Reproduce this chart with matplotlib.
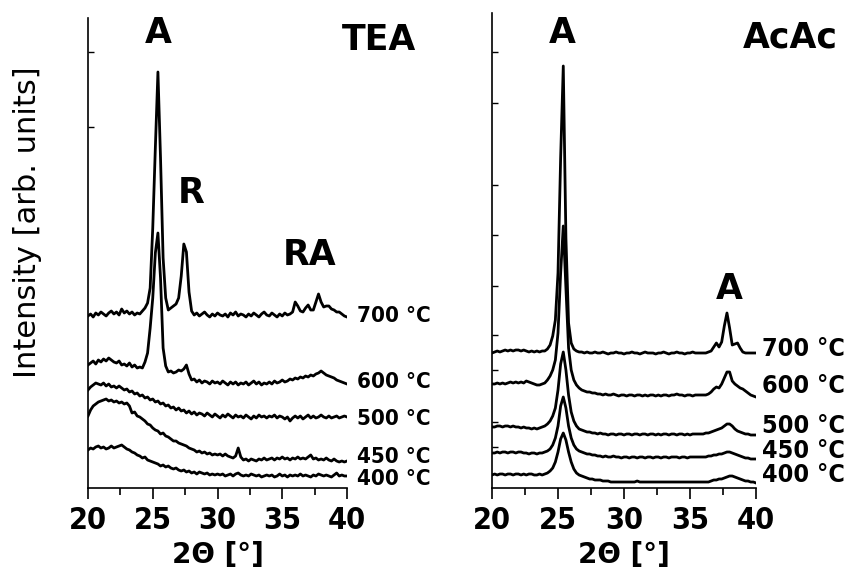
import numpy as np
import matplotlib
matplotlib.use("Agg")
import matplotlib.pyplot as plt
from matplotlib.ticker import MultipleLocator, FixedLocator

# 2-theta sampling grid (degrees)
theta = np.round(np.arange(20.0, 40.0001, 0.2), 1)

temps = ["700 °C", "600 °C", "500 °C", "450 °C", "400 °C"]

# TEA series (stacked intensity, arb. units)
tea_700 = [
    172, 174, 171, 175, 173, 176, 174, 172, 175, 177,
    174, 176, 173, 179, 175, 177, 174, 176, 173, 175,
    174, 177, 180, 185, 200, 260, 340, 416, 330, 230,
    190, 178, 180, 182, 184, 190, 212, 244, 236, 196,
    177, 173, 175, 172, 174, 176, 173, 171, 174, 172,
    175, 173, 172, 174, 171, 175, 173, 176, 172, 174,
    173, 171, 174, 172, 175, 173, 171, 174, 176, 173,
    172, 175, 173, 171, 174, 172, 175, 173, 174, 176,
    186, 182, 177, 176, 180, 183, 178, 178, 186, 194,
    186, 181, 182, 182, 179, 178, 176, 176, 174, 172,
    171]
tea_600 = [
    123, 125, 127, 124, 128, 126, 129, 127, 130, 128,
    126, 125, 127, 123, 124, 122, 125, 121, 123, 120,
    121, 120, 126, 135, 160, 190, 235, 255, 210, 140,
    122, 116, 117, 115, 116, 118, 117, 119, 123, 114,
    108, 109, 106, 108, 105, 107, 106, 104, 107, 105,
    106, 104, 107, 105, 103, 106, 104, 106, 103, 105,
    104, 106, 103, 105, 107, 104, 106, 103, 105, 104,
    106, 104, 107, 105, 106, 108, 106, 107, 109, 108,
    110, 109, 111, 110, 112, 111, 113, 112, 114, 115,
    117, 115, 113, 112, 111, 110, 108, 107, 106, 105,
    104]
tea_500 = [
    98, 101, 103, 105, 104, 103, 105, 102, 104, 101,
    102, 100, 102, 100, 98, 99, 96, 97, 94, 95,
    92, 93, 90, 91, 88, 89, 86, 87, 84, 85,
    82, 83, 80, 81, 78, 80, 77, 78, 75, 77,
    74, 76, 73, 75, 74, 72, 75, 73, 71, 74,
    72, 70, 73, 71, 74, 72, 70, 73, 71, 72,
    70, 73, 71, 69, 72, 70, 73, 71, 72, 70,
    72, 71, 73, 70, 72, 71, 69, 71, 67, 70,
    72, 70, 72, 69, 71, 73, 70, 72, 70, 71,
    73, 71, 70, 72, 70, 71, 72, 70, 71, 72,
    71]
tea_450 = [
    72, 78, 82, 84, 86, 87, 88, 89, 87, 88,
    86, 87, 85, 86, 84, 85, 82, 75, 76, 72,
    71, 69, 67, 64, 63, 60, 58, 57, 54, 55,
    52, 51, 49, 47, 47, 45, 44, 43, 42, 40,
    39, 38, 36, 37, 35, 36, 34, 35, 33, 34,
    33, 34, 32, 34, 32, 31, 30, 32, 40, 31,
    28, 29, 27, 29, 28, 27, 29, 28, 30, 28,
    29, 30, 28, 30, 29, 31, 29, 30, 28, 30,
    29, 31, 29, 30, 29, 31, 33, 29, 30, 28,
    29, 28, 30, 28, 27, 29, 27, 26, 27, 26,
    27]
tea_400 = [
    38, 40, 39, 41, 42, 40, 41, 39, 40, 42,
    40, 41, 42, 43, 41, 39, 38, 36, 35, 33,
    32, 30, 31, 28, 27, 26, 25, 24, 22, 23,
    21, 22, 20, 19, 20, 18, 17, 18, 16, 17,
    15, 16, 14, 16, 15, 14, 15, 13, 14, 13,
    14, 13, 14, 12, 13, 14, 12, 14, 15, 13,
    12, 13, 12, 14, 13, 12, 13, 11, 12, 13,
    12, 13, 11, 12, 14, 12, 13, 11, 13, 12,
    13, 12, 14, 12, 13, 12, 11, 13, 12, 14,
    13, 12, 13, 12, 11, 13, 15, 12, 13, 12,
    12]

# AcAc series (stacked intensity, arb. units)
acac_700 = [
    135, 136, 137, 136, 137, 138, 137, 138, 137, 138,
    138, 137, 138, 137, 136, 137, 136, 137, 136, 137,
    137, 139, 143, 152, 168, 215, 330, 422, 250, 165,
    145, 139, 137, 136, 136, 135, 136, 135, 135, 136,
    135, 135, 136, 135, 134, 135, 135, 136, 135, 135,
    134, 135, 135, 136, 135, 135, 134, 135, 136, 135,
    135, 135, 134, 135, 135, 136, 135, 134, 135, 135,
    136, 135, 135, 134, 135, 135, 136, 135, 135, 135,
    135, 135, 136, 137, 141, 145, 141, 146, 162, 175,
    160, 143, 144, 145, 140, 136, 135, 135, 135, 135,
    135]
acac_600 = [
    104, 104, 105, 104, 105, 104, 105, 106, 105, 106,
    105, 106, 105, 107, 106, 105, 104, 103, 103, 104,
    105, 108, 112, 118, 128, 155, 215, 262, 200, 140,
    118, 108, 103, 100, 98, 97, 96, 96, 95, 95,
    94, 94, 93, 94, 93, 93, 94, 93, 92, 93,
    93, 92, 93, 93, 92, 93, 93, 92, 93, 92,
    93, 93, 92, 93, 92, 93, 93, 92, 93, 93,
    94, 93, 93, 92, 93, 93, 92, 93, 93, 93,
    93, 93, 94, 96, 99, 101, 100, 104, 110, 116,
    116, 107, 104, 102, 100, 99, 97, 95, 93, 92,
    91]
acac_500 = [
    61, 61, 62, 62, 61, 62, 62, 61, 62, 61,
    61, 60, 61, 60, 60, 59, 60, 59, 60, 61,
    62, 64, 67, 72, 80, 98, 124, 136, 118, 93,
    76, 67, 62, 59, 58, 57, 56, 56, 55, 55,
    54, 55, 54, 54, 53, 54, 54, 53, 54, 54,
    53, 54, 54, 53, 54, 54, 53, 54, 54, 53,
    54, 54, 53, 54, 53, 54, 54, 53, 54, 54,
    53, 54, 54, 53, 54, 53, 54, 54, 54, 54,
    54, 55, 55, 56, 57, 58, 59, 60, 62, 64,
    64, 62, 59, 57, 56, 55, 54, 54, 53, 53,
    53]
acac_450 = [
    35, 35, 36, 35, 36, 36, 35, 36, 36, 35,
    36, 36, 35, 35, 34, 35, 35, 34, 35, 35,
    36, 37, 39, 43, 50, 62, 82, 91, 80, 62,
    50, 43, 39, 37, 36, 35, 34, 34, 33, 33,
    32, 32, 31, 32, 31, 31, 32, 31, 31, 30,
    31, 31, 30, 31, 31, 30, 31, 31, 30, 31,
    31, 30, 31, 31, 30, 31, 31, 30, 31, 31,
    31, 30, 31, 31, 30, 31, 31, 31, 31, 31,
    31, 31, 32, 32, 33, 33, 34, 34, 35, 36,
    36, 35, 34, 33, 32, 31, 30, 30, 29, 29,
    29]
acac_400 = [
    13, 14, 13, 14, 14, 13, 14, 14, 13, 14,
    14, 13, 14, 13, 14, 14, 13, 13, 14, 13,
    14, 15, 17, 20, 26, 36, 49, 55, 48, 36,
    26, 19, 15, 13, 12, 11, 10, 9, 9, 8,
    8, 8, 7, 7, 7, 6, 6, 6, 6, 6,
    6, 6, 6, 6, 6, 7, 6, 6, 6, 6,
    6, 6, 6, 6, 6, 6, 6, 6, 6, 6,
    6, 6, 6, 6, 6, 6, 6, 6, 6, 6,
    6, 6, 6, 7, 8, 8, 9, 9, 10, 11,
    12, 12, 11, 10, 9, 8, 7, 7, 6, 6,
    5]

x_ticks = [20, 25, 30, 35, 40]

plt.rcParams["font.family"] = ["DejaVu Sans"]

fig = plt.figure(figsize=(8.48, 5.79), dpi=100)
ax_l = fig.add_axes([88 / 848, 91 / 579, 259 / 848, 470 / 579])
ax_r = fig.add_axes([492 / 848, 91 / 579, 264 / 848, 475 / 579])

# (axes, curves, y-limit, label heights, label x, label size)
panels = [
    (ax_l, [tea_700, tea_600, tea_500, tea_450, tea_400], 470,
     [172, 106, 69, 31, 9], 40.75, 16),
    (ax_r, [acac_700, acac_600, acac_500, acac_450, acac_400], 475,
     [139, 102, 62, 37, 13], 40.45, 18),
]

for ax, series, top, lab_y, lab_x, lab_fs in panels:
    for vals, name, ly in zip(series, temps, lab_y):
        ax.plot(theta, vals, color="black", lw=2.0, solid_joinstyle="round")
        ax.text(lab_x, ly, name, fontsize=lab_fs, fontweight="bold",
                stretch="condensed", va="center", ha="left", clip_on=False)
    ax.set_xlim(20, 40)
    ax.set_ylim(0, top)
    for s in ("top", "right"):
        ax.spines[s].set_visible(False)
    for s in ("left", "bottom"):
        ax.spines[s].set_linewidth(1.2)
    ax.xaxis.set_major_locator(FixedLocator(x_ticks))
    ax.xaxis.set_minor_locator(MultipleLocator(2.5))
    ax.tick_params(axis="x", which="major", direction="out", length=8, width=1.2,
                   labelsize=22, pad=5)
    ax.tick_params(axis="x", which="minor", direction="out", length=5, width=1.2)
    for lab in ax.get_xticklabels():
        lab.set_fontweight("bold")
        lab.set_fontstretch("condensed")
    ax.tick_params(axis="y", which="both", direction="in", length=4, width=1,
                   labelleft=False)
    ax.set_xlabel("2Θ [°]", fontsize=20, fontweight="bold", labelpad=4)

ax_l.yaxis.set_major_locator(FixedLocator([361, 436]))
ax_r.yaxis.set_major_locator(FixedLocator([41, 66, 118, 153, 202, 253, 303, 385, 436]))

# phase markers
pk = dict(fontsize=25, fontweight="bold", ha="center", va="center", clip_on=False)
ax_l.text(25.4, 455, "A", **pk)
ax_l.text(28.0, 295, "R", **pk)
ax_l.text(37.1, 233, "RA", **pk)
ax_l.text(42.5, 448, "TEA", **pk)
ax_r.text(25.3, 455, "A", **pk)
ax_r.text(37.95, 199, "A", **pk)
ax_r.text(42.6, 451, "AcAc", **pk)

fig.text(28 / 848, 1 - 222 / 579, "Intensity [arb. units]", rotation=90,
         fontsize=22, ha="center", va="center")

fig.savefig("out.png", dpi=100)
